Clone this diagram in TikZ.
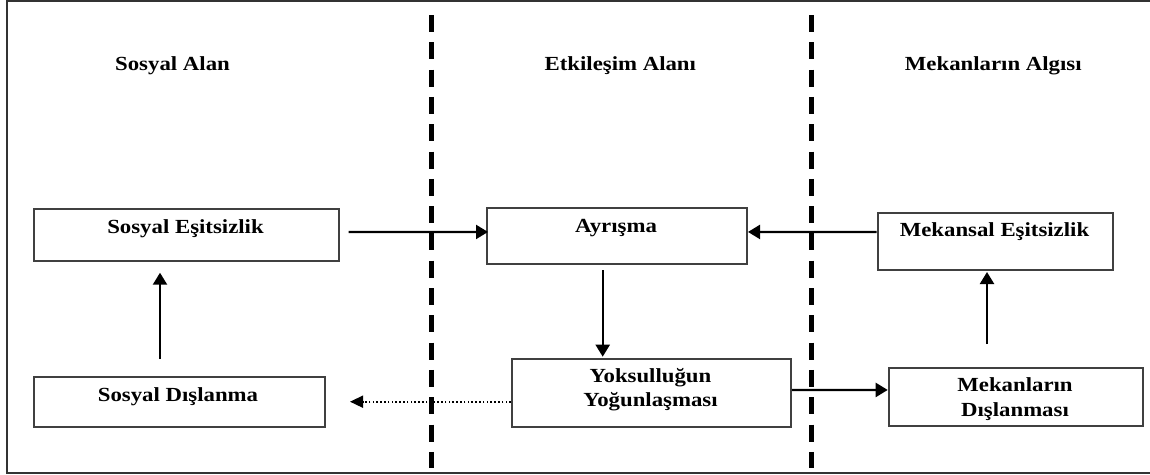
\documentclass[tikz,border=0pt]{standalone}
\usepackage{fontspec}
\setmainfont{Liberation Serif}
\usetikzlibrary{arrows.meta,calc}
\newcommand{\tx}[1]{\scalebox{1.14}[1]{#1}}
\begin{document}
\begin{tikzpicture}[x=1pt,y=-1pt,
  box/.style={draw=black!75,line width=2pt,inner sep=0pt,anchor=north west},
  lbl/.style={font=\fontsize{20}{24}\selectfont\bfseries,anchor=base,inner sep=0pt,text=black},
  arr/.style={line width=2.2pt,-{Triangle[length=12pt,width=14pt]}},
  dotarr/.style={line width=1.6pt,dash pattern=on 1.6pt off 2.2pt,-{Triangle[length=13pt,width=12pt]}},
  divider/.style={line width=5.5pt,dash pattern=on 17pt off 10.3pt},
  frame/.style={line width=2.2pt,draw=black!80}]
\useasboundingbox (0,0) rectangle (1150,474);
% frame
\coordinate (f1) at (1150,1);
\coordinate (f2) at (7,1);
\coordinate (f3) at (7,472.7);
\coordinate (f4) at (1150,472.7);
\draw[frame] (f1) -- (f2) -- (f3) -- (f4);
% dividers
\coordinate (d1a) at (431.5,15);
\coordinate (d1b) at (431.5,468.3);
\coordinate (d2a) at (811.7,15);
\coordinate (d2b) at (811.7,468.3);
\draw[divider] (d1a) -- (d1b);
\draw[divider] (d2a) -- (d2b);
% headings
\node[lbl] (h1) at (172.5,70.3) {\tx{Sosyal Alan}};
\node[lbl] (h2) at (620.3,70.3) {\tx{Etkileşim Alanı}};
\node[lbl] (h3) at (993.3,70.3) {\tx{Mekanların Algısı}};
% boxes
\node[box,minimum width=305pt,minimum height=52.6pt] (seit) at (33,207.7) {};
\node[box,minimum width=291pt,minimum height=50pt] (sdis) at (33,375.7) {};
\node[box,minimum width=260pt,minimum height=55.7pt] (ayr) at (486,207.3) {};
\node[box,minimum width=279pt,minimum height=67.4pt] (yok) at (511,358.3) {};
\node[box,minimum width=235pt,minimum height=57.6pt] (mek) at (876.7,211.7) {};
\node[box,minimum width=254.6pt,minimum height=57.7pt] (mdis) at (887.7,367.3) {};
% box texts
\node[lbl] (tseit) at (185.5,233) {\tx{Sosyal Eşitsizlik}};
\node[lbl] (tsdis) at (178,401.5) {\tx{Sosyal Dışlanma}};
\node[lbl] (tayr) at (616,232.7) {\tx{Ayrışma}};
\node[lbl] (tyok1) at (650.5,382.3) {\tx{Yoksulluğun}};
\node[lbl] (tyok2) at (650.5,406.7) {\tx{Yoğunlaşması}};
\node[lbl] (tmek) at (994.5,236) {\tx{Mekansal Eşitsizlik}};
\node[lbl] (tmdis1) at (1015,391.7) {\tx{Mekanların}};
\node[lbl] (tmdis2) at (1015,416) {\tx{Dışlanması}};
% connectors
\draw[arr] ($(seit.east)+(8.7,-3)$) -- ($(ayr.east)+(-260,-4.2)$);
\draw[arr] ($(mek.west)+(0,-9.5)$) -- ($(ayr.east)+(0,-4.2)$);
\draw[arr] ($(ayr.south)+(-14.3,5)$) -- ($(yok.north)+(-48.8,-1.6)$);
\draw[arr] ($(yok.east)+(0,-3)$) -- ($(mdis.west)+(0,-7.2)$);
\draw[arr] ($(mdis.north)+(-29,-23.3)$) -- ($(mek.south)+(-8.2,0.7)$);
\draw[arr] ($(sdis.north)+(-19.5,-16.7)$) -- ($(seit.south)+(-26.5,10.4)$);
\draw[dotarr] ($(yok.west)+(0,8.7)$) -- ($(sdis.east)+(24,0)$);
\end{tikzpicture}
\end{document}
